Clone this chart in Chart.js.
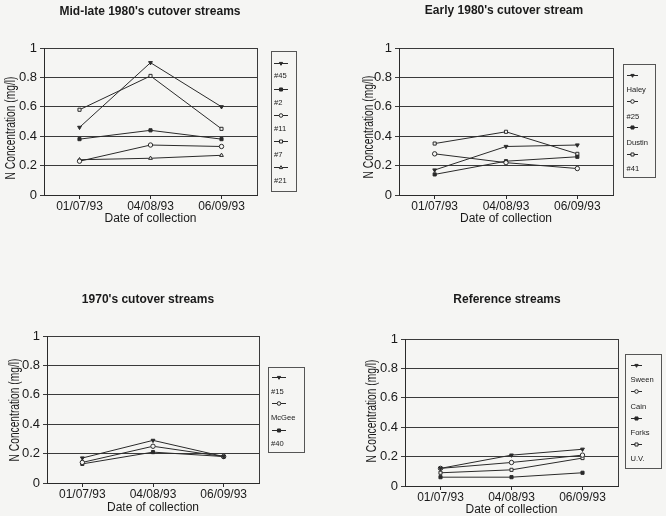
<!DOCTYPE html>
<html>
<head>
<meta charset="utf-8">
<script src="https://cdn.jsdelivr.net/npm/chart.js@4.4.1/dist/chart.umd.min.js"></script>
<style>
  html, body { margin: 0; padding: 0; background: #f5f5f3; }
  #wrap { position: relative; width: 666px; height: 516px; overflow: hidden; }
  #wrap canvas { position: absolute; left: 0; top: 0; }
</style>
</head>
<body>
<div id="wrap">
  <canvas id="c1" width="666" height="516"></canvas>
  <canvas id="c2" width="666" height="516"></canvas>
  <canvas id="c3" width="666" height="516"></canvas>
  <canvas id="c4" width="666" height="516"></canvas>
</div>
<script>
// Sampling dates (category axis) and concentration ticks
const dates = ['01/07/93', '04/08/93', '06/09/93'];
const yTickValues = [0, 0.2, 0.4, 0.6, 0.8, 1];

// Mid-late 1980's cutover streams (N, mg/l)
const s45 = [0.46, 0.90, 0.60];
const s2  = [0.38, 0.44, 0.38];
const s11 = [0.23, 0.34, 0.33];
const s7  = [0.58, 0.81, 0.45];
const s21 = [0.24, 0.25, 0.27];

// Early 1980's cutover stream
const haley  = [0.17, 0.33, 0.34];
const s25    = [0.28, 0.22, 0.18];
const dustin = [0.14, 0.23, 0.26];
const s41    = [0.35, 0.43, 0.28];

// 1970's cutover streams
const s15   = [0.17, 0.29, 0.18];
const mcgee = [0.14, 0.25, 0.18];
const s40   = [0.13, 0.21, 0.18];

// Reference streams
const sween = [0.12, 0.21, 0.25];
const cain  = [0.12, 0.16, 0.21];
const forks = [0.06, 0.06, 0.09];
const uv    = [0.09, 0.11, 0.19];

const INK = '#2a2a2a';
const GRID = '#3a3a3a';
const TXT = '#1a1a1a';
const PAPER = '#f5f5f3';
const FONT = '"Liberation Sans", Arial, sans-serif';
const Y_TITLE = 'N Concentration (mg/l)';
const X_TITLE = 'Date of collection';

// marker kinds
const M = {
  downFilled: { style: 'triangle', rot: 180, fill: true },
  sqFilled:   { style: 'rect', rot: 0, fill: true },
  circOpen:   { style: 'circle', rot: 0, fill: false },
  sqOpen:     { style: 'rect', rot: 0, fill: false },
  triOpen:    { style: 'triangle', rot: 0, fill: false }
};

function drawMarker(ctx, m, x, y, r) {
  ctx.save();
  ctx.beginPath();
  if (m.style === 'circle') {
    ctx.arc(x, y, r, 0, Math.PI * 2);
  } else if (m.style === 'rect') {
    const h = r * 0.85;
    ctx.rect(x - h, y - h, h * 2, h * 2);
  } else {
    const dir = m.rot === 180 ? -1 : 1;
    ctx.moveTo(x, y - dir * r);
    ctx.lineTo(x + r * 0.9, y + dir * r * 0.6);
    ctx.lineTo(x - r * 0.9, y + dir * r * 0.6);
    ctx.closePath();
  }
  ctx.fillStyle = m.fill ? INK : PAPER;
  ctx.fill();
  ctx.lineWidth = 1;
  ctx.strokeStyle = INK;
  ctx.stroke();
  ctx.restore();
}

// Titles, plot frame, condensed y-axis title and the stacked legend box
const panelDecor = {
  id: 'panelDecor',
  afterDraw(chart, args, p) {
    const ctx = chart.ctx;
    const a = chart.chartArea;
    ctx.save();
    // right edge of the plot frame
    ctx.strokeStyle = GRID;
    ctx.lineWidth = 1;
    ctx.beginPath();
    ctx.moveTo(Math.round(a.right) + 0.5, Math.round(a.top));
    ctx.lineTo(Math.round(a.right) + 0.5, Math.round(a.bottom));
    ctx.stroke();

    // chart title
    ctx.fillStyle = TXT;
    ctx.font = 'bold 12px ' + FONT;
    ctx.textAlign = 'center';
    ctx.textBaseline = 'middle';
    ctx.fillText(p.title, p.titleX, p.titleY);

    // x-axis title
    ctx.font = '12px ' + FONT;
    ctx.fillText(X_TITLE, (a.left + a.right) / 2, p.xTitleY);

    // y-axis title (narrow face)
    ctx.save();
    ctx.translate(p.yTitleX, p.yTitleY);
    ctx.rotate(-Math.PI / 2);
    ctx.scale(0.73, 1);
    ctx.font = '14px ' + FONT;
    ctx.fillText(Y_TITLE, 0, 0);
    ctx.restore();

    // legend
    const L = p.legend;
    ctx.strokeStyle = '#555';
    ctx.lineWidth = 1;
    ctx.strokeRect(L.x + 0.5, L.y + 0.5, L.w, L.h);
    ctx.font = '7.6px ' + FONT;
    ctx.textAlign = 'left';
    p.series.forEach((s, i) => {
      const sy = L.symY + i * L.step;
      ctx.strokeStyle = INK;
      ctx.beginPath();
      ctx.moveTo(L.symX0, Math.round(sy) + 0.5);
      ctx.lineTo(L.symX1, Math.round(sy) + 0.5);
      ctx.stroke();
      drawMarker(ctx, s.marker, (L.symX0 + L.symX1) / 2, Math.round(sy) + 0.5, 1.8);
      ctx.fillStyle = TXT;
      ctx.fillText(s.name, L.textX, sy + L.textGap);
    });
    ctx.restore();
  }
};

function makePanel(id, p) {
  const datasets = p.series.map(s => ({
    label: s.name,
    data: s.values,
    borderColor: INK,
    borderWidth: 1,
    tension: 0,
    fill: false,
    pointStyle: s.marker.style,
    pointRotation: s.marker.rot,
    pointRadius: 2.2,
    pointBorderWidth: 1,
    pointBorderColor: INK,
    pointBackgroundColor: s.marker.fill ? INK : PAPER
  }));
  new Chart(document.getElementById(id), {
    type: 'line',
    data: { labels: dates, datasets },
    options: {
      responsive: false,
      animation: false,
      devicePixelRatio: 1,
      events: [],
      layout: { padding: { left: 0, top: p.area.top, right: 666 - p.area.right, bottom: 0 } },
      plugins: {
        legend: { display: false },
        tooltip: { enabled: false },
        title: { display: false },
        panelDecor: p
      },
      scales: {
        x: {
          offset: true,
          grid: { display: true, drawOnChartArea: false, drawTicks: true, tickLength: 4, color: INK },
          border: { display: true, color: INK, width: 1 },
          ticks: { color: TXT, font: { family: FONT, size: 12 }, padding: 0, maxRotation: 0, autoSkip: false },
          afterFit(s) { s.height = 516 - p.area.bottom; }
        },
        y: {
          min: 0,
          max: 1,
          afterBuildTicks(s) { s.ticks = yTickValues.map(v => ({ value: v })); },
          grid: { color: GRID, lineWidth: 1, drawTicks: true, tickLength: 4 },
          border: { display: true, color: INK, width: 1 },
          ticks: {
            color: TXT,
            font: { family: FONT, size: 13 },
            padding: 3,
            callback: v => String(v)
          },
          afterFit(s) { s.width = p.area.left; }
        }
      }
    },
    plugins: [panelDecor]
  });
}

makePanel('c1', {
  title: "Mid-late 1980's cutover streams", titleX: 150, titleY: 12,
  area: { left: 44, top: 48, right: 257, bottom: 195 },
  xTitleY: 219, yTitleX: 11, yTitleY: 128,
  series: [
    { name: '#45', values: s45, marker: M.downFilled },
    { name: '#2',  values: s2,  marker: M.sqFilled },
    { name: '#11', values: s11, marker: M.circOpen },
    { name: '#7',  values: s7,  marker: M.sqOpen },
    { name: '#21', values: s21, marker: M.triOpen }
  ],
  legend: { x: 271, y: 51, w: 25, h: 140, symY: 63, step: 26.1, textGap: 13.4, symX0: 274, symX1: 288, textX: 274 }
});

makePanel('c2', {
  title: "Early 1980's cutover stream", titleX: 504, titleY: 11,
  area: { left: 399, top: 48, right: 613, bottom: 195 },
  xTitleY: 219, yTitleX: 369, yTitleY: 127,
  series: [
    { name: 'Haley',  values: haley,  marker: M.downFilled },
    { name: '#25',    values: s25,    marker: M.circOpen },
    { name: 'Dustin', values: dustin, marker: M.sqFilled },
    { name: '#41',    values: s41,    marker: M.sqOpen }
  ],
  legend: { x: 623, y: 64, w: 32, h: 113, symY: 75, step: 26.2, textGap: 15.3, symX0: 627, symX1: 638, textX: 626.5 }
});

makePanel('c3', {
  title: "1970's cutover streams", titleX: 148, titleY: 300,
  area: { left: 47, top: 336, right: 259, bottom: 483 },
  xTitleY: 508, yTitleX: 15, yTitleY: 410,
  series: [
    { name: '#15',   values: s15,   marker: M.downFilled },
    { name: 'McGee', values: mcgee, marker: M.circOpen },
    { name: '#40',   values: s40,   marker: M.sqFilled }
  ],
  legend: { x: 268, y: 367, w: 36, h: 85, symY: 377, step: 26.3, textGap: 14.5, symX0: 272, symX1: 286, textX: 271 }
});

makePanel('c4', {
  title: 'Reference streams', titleX: 507, titleY: 300,
  area: { left: 405, top: 339, right: 618, bottom: 486 },
  xTitleY: 510, yTitleX: 372, yTitleY: 411,
  series: [
    { name: 'Sween', values: sween, marker: M.downFilled },
    { name: 'Cain',  values: cain,  marker: M.circOpen },
    { name: 'Forks', values: forks, marker: M.sqFilled },
    { name: 'U.V.',  values: uv,    marker: M.sqOpen }
  ],
  legend: { x: 625, y: 354, w: 36, h: 114, symY: 365, step: 26.3, textGap: 15.3, symX0: 631, symX1: 642, textX: 630.5 }
});
</script>
</body>
</html>
